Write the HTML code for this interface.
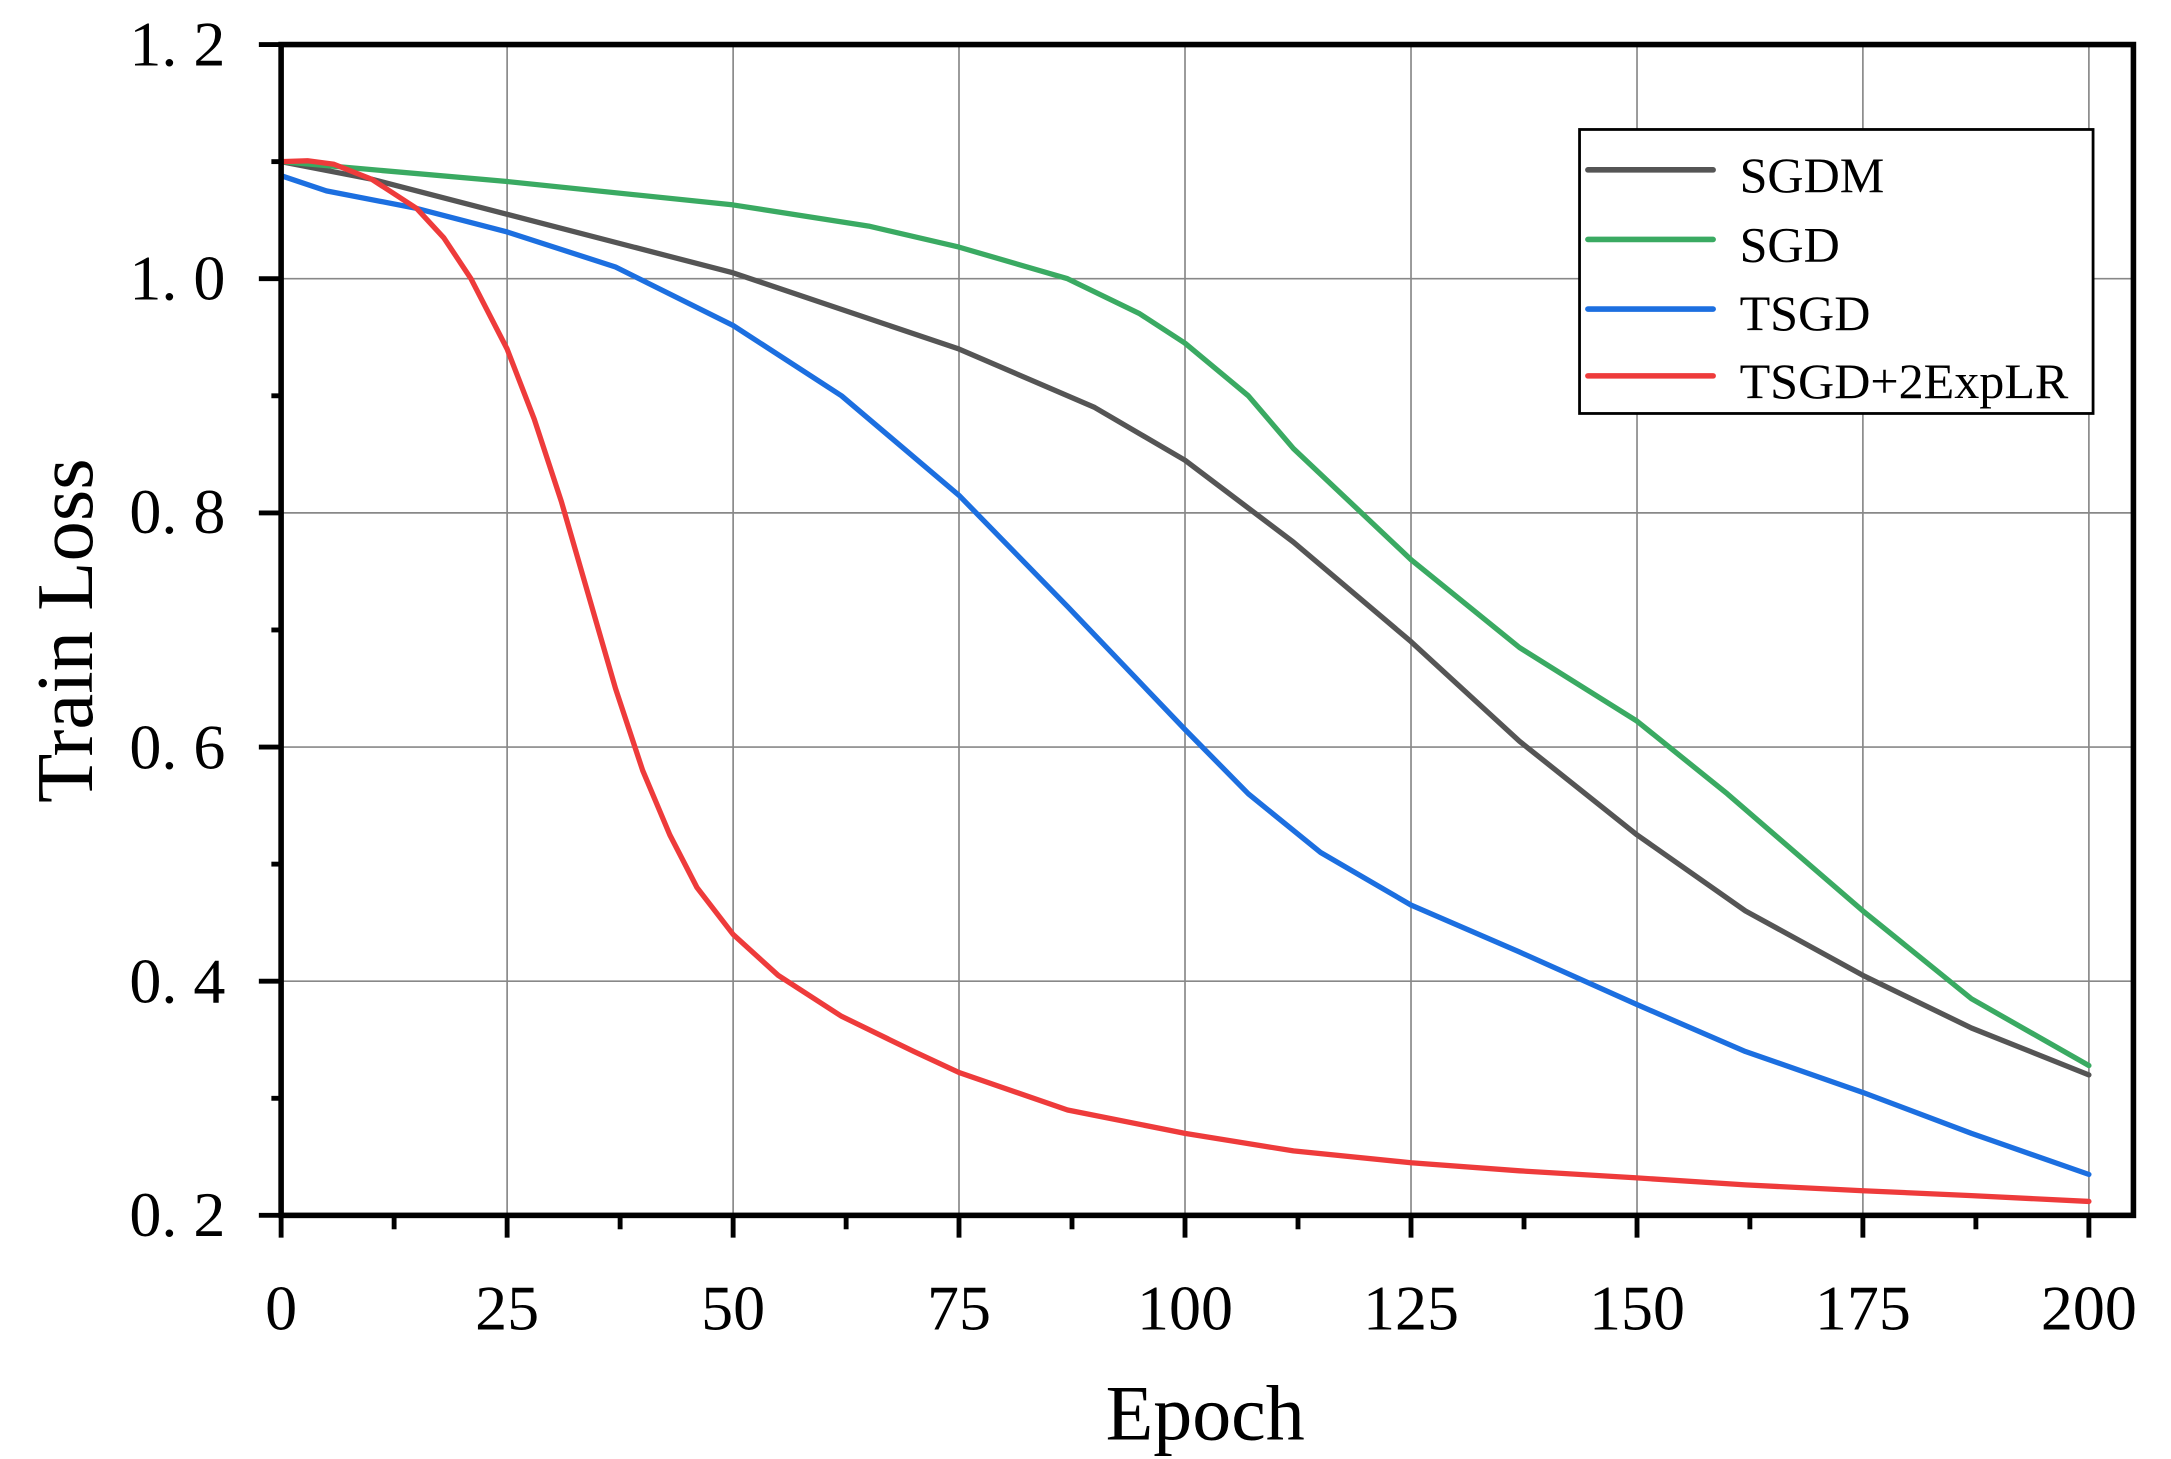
<!DOCTYPE html>
<html><head><meta charset="utf-8"><style>html,body{margin:0;padding:0;background:#fff}svg{display:block}</style></head>
<body>
<svg width="2171" height="1459" viewBox="0 0 1560 1048" preserveAspectRatio="none" xmlns="http://www.w3.org/2000/svg" font-family="'Liberation Serif','Noto Serif CJK SC',serif">
<g stroke="#888" stroke-width="1.2">
<line x1="364.4" y1="32" x2="364.4" y2="873"/><line x1="526.8" y1="32" x2="526.8" y2="873"/><line x1="689.1" y1="32" x2="689.1" y2="873"/><line x1="851.5" y1="32" x2="851.5" y2="873"/><line x1="1013.9" y1="32" x2="1013.9" y2="873"/><line x1="1176.3" y1="32" x2="1176.3" y2="873"/><line x1="1338.6" y1="32" x2="1338.6" y2="873"/><line x1="1501" y1="32" x2="1501" y2="873"/>
<line x1="202" y1="704.8" x2="1533" y2="704.8"/><line x1="202" y1="536.6" x2="1533" y2="536.6"/><line x1="202" y1="368.4" x2="1533" y2="368.4"/><line x1="202" y1="200.2" x2="1533" y2="200.2"/>
</g>
<g fill="none" stroke-width="3.8" stroke-linejoin="round" stroke-linecap="round">
<polyline stroke="#555" points="202,116.1 267,128.7 364.4,153.9 526.8,196 689.1,250.7 786.6,292.7 851.5,330.6 929.4,389.4 1013.9,460.9 1091.8,532.4 1176.3,599.7 1254.2,654.3 1338.6,700.6 1416.6,738.4 1501,772.1"/>
<polyline stroke="#3aaa62" points="202,116.1 364.4,130.4 526.8,147.2 624.2,162.4 689.1,177.5 767.1,200.2 819,225.4 851.5,246.5 897,284.3 929.4,322.2 1013.9,402 1091.8,465.1 1176.3,518 1241.2,570.2 1338.6,654.3 1416.6,717.4 1501,765.4"/>
<polyline stroke="#1c6fe0" points="202,126.2 234.5,137.1 299.4,149.7 364.4,166.6 442.3,191.8 526.8,233.8 604.7,284.3 689.1,355.8 767.1,435.7 851.5,524 897,570.2 948.9,612.3 1013.9,650.1 1091.8,683.8 1176.3,721.6 1254.2,755.3 1338.6,784.7 1416.6,814.1 1501,843.6"/>
<polyline stroke="#ee3b3b" points="202,116.1 221,115.5 240,118 267,128.7 299.4,149.7 318.9,170.8 338.4,200.2 364.4,250.7 383.9,301.1 403.3,360 422.8,427.3 442.3,494.6 461.8,553.4 481.3,599.7 500.8,637.5 526.8,671.2 559.2,700.6 604.7,730 656.7,755.3 689.1,770.4 767.1,797.3 851.5,814.1 929.4,826.7 1013.9,835.2 1091.8,841 1176.3,846.1 1254.2,851.1 1338.6,855.3 1416.6,858.8 1501,863"/>
</g>
<rect x="202" y="32" width="1331" height="841" fill="none" stroke="#000" stroke-width="4"/>
<g stroke="#000" stroke-width="3.5">
<line x1="202" y1="873" x2="202" y2="889"/><line x1="364.4" y1="873" x2="364.4" y2="889"/><line x1="526.8" y1="873" x2="526.8" y2="889"/><line x1="689.1" y1="873" x2="689.1" y2="889"/><line x1="851.5" y1="873" x2="851.5" y2="889"/><line x1="1013.9" y1="873" x2="1013.9" y2="889"/><line x1="1176.3" y1="873" x2="1176.3" y2="889"/><line x1="1338.6" y1="873" x2="1338.6" y2="889"/><line x1="1501" y1="873" x2="1501" y2="889"/>
<line x1="283.2" y1="873" x2="283.2" y2="883"/><line x1="445.6" y1="873" x2="445.6" y2="883"/><line x1="608" y1="873" x2="608" y2="883"/><line x1="770.3" y1="873" x2="770.3" y2="883"/><line x1="932.7" y1="873" x2="932.7" y2="883"/><line x1="1095.1" y1="873" x2="1095.1" y2="883"/><line x1="1257.4" y1="873" x2="1257.4" y2="883"/><line x1="1419.8" y1="873" x2="1419.8" y2="883"/>
<line x1="186" y1="873" x2="202" y2="873"/><line x1="186" y1="704.8" x2="202" y2="704.8"/><line x1="186" y1="536.6" x2="202" y2="536.6"/><line x1="186" y1="368.4" x2="202" y2="368.4"/><line x1="186" y1="200.2" x2="202" y2="200.2"/><line x1="186" y1="32" x2="202" y2="32"/>
<line x1="195" y1="788.9" x2="202" y2="788.9"/><line x1="195" y1="620.7" x2="202" y2="620.7"/><line x1="195" y1="452.5" x2="202" y2="452.5"/><line x1="195" y1="284.3" x2="202" y2="284.3"/><line x1="195" y1="116.1" x2="202" y2="116.1"/>
</g>
<g font-size="46" fill="#000" text-anchor="middle">
<text x="202" y="955">0</text><text x="364.4" y="955">25</text><text x="526.8" y="955">50</text><text x="689.1" y="955">75</text><text x="851.5" y="955">100</text><text x="1013.9" y="955">125</text><text x="1176.3" y="955">150</text><text x="1338.6" y="955">175</text><text x="1501" y="955">200</text>
</g>
<g font-size="46" fill="#000" text-anchor="end">
<text x="162" y="888">0. 2</text><text x="162" y="720">0. 4</text><text x="162" y="552">0. 6</text><text x="162" y="383">0. 8</text><text x="162" y="215">1. 0</text><text x="162" y="47">1. 2</text>
</g>
<text x="866" y="1034" font-size="56" text-anchor="middle">Epoch</text>
<text transform="translate(66,453) rotate(-90)" font-size="58" text-anchor="middle">Train Loss</text>
<rect x="1135" y="93" width="369" height="204" fill="#fff" stroke="#000" stroke-width="2"/>
<line x1="1141" y1="122" x2="1231" y2="122" stroke="#555" stroke-width="4" stroke-linecap="round"/>
<line x1="1141" y1="172" x2="1231" y2="172" stroke="#3aaa62" stroke-width="4" stroke-linecap="round"/>
<line x1="1141" y1="222" x2="1231" y2="222" stroke="#1c6fe0" stroke-width="4" stroke-linecap="round"/>
<line x1="1141" y1="270" x2="1231" y2="270" stroke="#ee3b3b" stroke-width="4" stroke-linecap="round"/>
<g font-size="36"><text x="1250" y="138">SGDM</text><text x="1250" y="188">SGD</text><text x="1250" y="237">TSGD</text><text x="1250" y="286">TSGD+2ExpLR</text></g>
</svg>
</body></html>
